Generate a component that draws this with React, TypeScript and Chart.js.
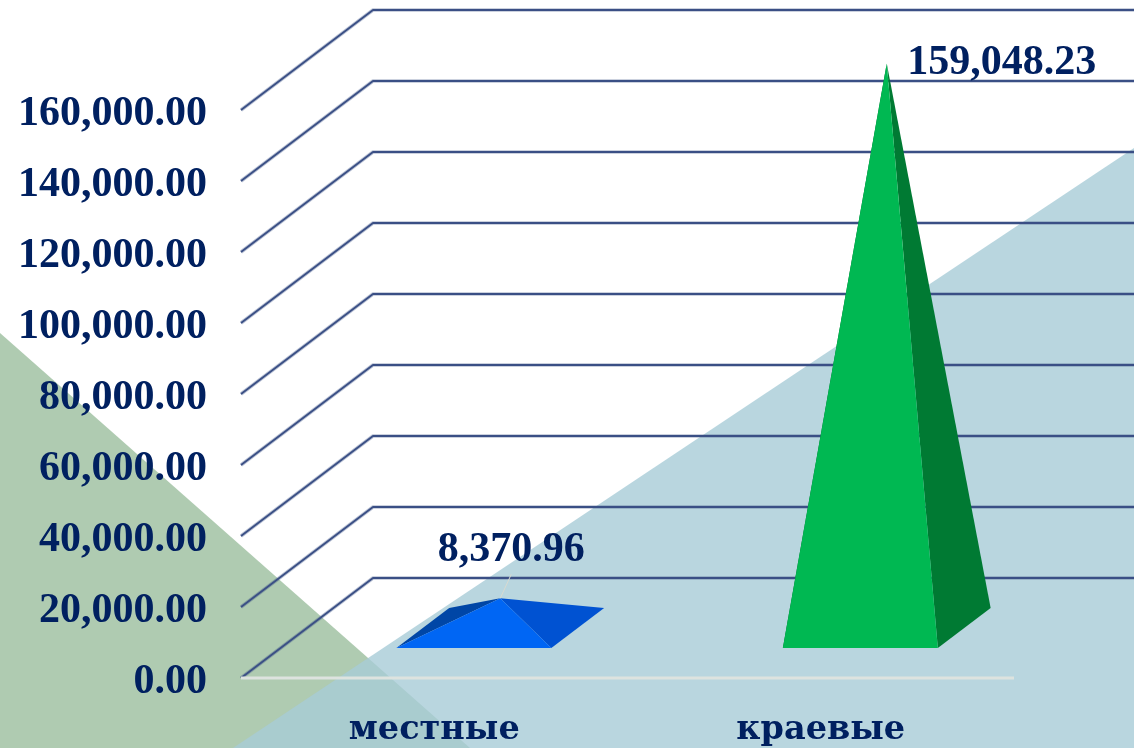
import React, { useEffect, useRef } from "react";
import { Chart, BarController, BarElement, CategoryScale, LinearScale } from "chart.js";

const categories = ["местные", "краевые"];
const values = [8370.96, 159048.23];
const yTicksMax = 160000;
const yTicksStep = 20000;

const INK = "#002060";
const FONT = '"Liberation Serif", serif';
const CATEGORY_FONT = '"DejaVu Serif", serif';
const frontColors = ["#0066F4", "#00B852"];
const sideColors = ["#0052D2", "#007A33"];
const leftColors = ["#0046A6", "#00642A"];
const labelOffsets = [{ x: 11, y: -48 }, { x: 115, y: 0 }];
const DEPTH_X = 132;
const DEPTH_Y = 100;
const FRONT_DEPTH = 0.3;
const BACK_DEPTH = 0.7;

const fmt = (v: number) =>
  v.toLocaleString("en-US", { minimumFractionDigits: 2, maximumFractionDigits: 2 });

function poly(ctx: CanvasRenderingContext2D, pts: number[][], fill: string) {
  ctx.beginPath();
  pts.forEach((p, i) => (i ? ctx.lineTo(p[0], p[1]) : ctx.moveTo(p[0], p[1])));
  ctx.closePath();
  ctx.fillStyle = fill;
  ctx.fill();
}

class PyramidController extends BarController {
  draw() {
    const ctx = this.chart.ctx;
    const meta = this.getMeta();
    meta.data.forEach((bar: any, i: number) => {
      const half = bar.width / 2;
      const base = bar.base;
      const cx = bar.x;
      const fx = cx + DEPTH_X * FRONT_DEPTH;
      const fy = base - DEPTH_Y * FRONT_DEPTH;
      const bx = cx + DEPTH_X * BACK_DEPTH;
      const by = base - DEPTH_Y * BACK_DEPTH;
      const apex = [cx + DEPTH_X / 2, bar.y - DEPTH_Y / 2];
      poly(ctx, [[fx - half, fy], [bx - half, by], apex], leftColors[i]);
      poly(ctx, [[fx + half, fy], [bx + half, by], apex], sideColors[i]);
      poly(ctx, [[fx - half, fy], [fx + half, fy], apex], frontColors[i]);

      const off = labelOffsets[i];
      const lx = apex[0] + off.x;
      const ly = apex[1] + off.y;
      if (Math.abs(off.y) > 10) {
        ctx.beginPath();
        ctx.moveTo(apex[0], apex[1]);
        ctx.lineTo(lx, ly + 24);
        ctx.strokeStyle = "#D9DAD0";
        ctx.lineWidth = 1;
        ctx.stroke();
      }
      ctx.fillStyle = INK;
      ctx.font = `bold 42px ${FONT}`;
      ctx.textAlign = "center";
      ctx.textBaseline = "middle";
      ctx.fillText(fmt(values[i]), lx, ly);
    });
  }
}
(PyramidController as any).id = "pyramid";
(PyramidController as any).defaults = BarController.defaults;
(PyramidController as any).overrides = BarController.overrides;

const backdrop = {
  id: "backdrop",
  beforeDraw(chart: any) {
    const { ctx, width, height } = chart;
    ctx.save();
    ctx.fillStyle = "#FFFFFF";
    ctx.fillRect(0, 0, width, height);
    poly(ctx, [[0, 333], [470, 748], [0, 748]], "#AFCBB1");
    poly(ctx, [[1134, 148], [1134, 748], [233, 748]], "rgba(168,204,215,0.8)");
    ctx.restore();
  },
};

const walls = {
  id: "walls",
  beforeDatasetsDraw(chart: any) {
    const { ctx, scales } = chart;
    const y = scales.y;
    const left = y.right;
    const bottom = y.getPixelForValue(0);
    ctx.save();
    ctx.lineCap = "butt";
    ctx.lineJoin = "round";
    y.ticks.forEach((t: any) => {
      const py = y.getPixelForValue(t.value);
      const path = () => {
        ctx.beginPath();
        ctx.moveTo(left, py);
        ctx.lineTo(left + DEPTH_X, py - DEPTH_Y);
        ctx.lineTo(chart.width + 4, py - DEPTH_Y);
      };
      path();
      ctx.strokeStyle = "rgba(58,79,133,0.35)";
      ctx.lineWidth = 3.5;
      ctx.stroke();
      path();
      ctx.strokeStyle = "#3A4F85";
      ctx.lineWidth = 1.8;
      ctx.stroke();
    });
    ctx.beginPath();
    ctx.moveTo(left, bottom);
    ctx.lineTo(scales.x.right, bottom);
    ctx.strokeStyle = "#DDE3DF";
    ctx.lineWidth = 3;
    ctx.stroke();
    ctx.restore();
  },
};

Chart.register(PyramidController as any, BarElement, CategoryScale, LinearScale);

export default function App() {
  const ref = useRef<HTMLCanvasElement>(null);
  useEffect(() => {
    document.body.style.margin = "0";
    const chart = new Chart(ref.current!, {
      type: "pyramid" as any,
      data: {
        labels: categories,
        datasets: [
          { data: values, categoryPercentage: 0.401, barPercentage: 1, clip: false } as any,
        ],
      },
      plugins: [backdrop, walls],
      options: {
        animation: false,
        responsive: false,
        layout: { padding: { top: 110, right: 120, left: 0, bottom: 0 } },
        plugins: { legend: { display: false }, tooltip: { enabled: false } },
        scales: {
          x: {
            type: "category",
            grid: { display: false },
            border: { display: false },
            afterFit: (s: any) => { s.height = 70; },
            ticks: {
              color: INK,
              padding: 24,
              maxRotation: 0,
              font: { family: CATEGORY_FONT, weight: "bold", size: 33.5 },
            },
          },
          y: {
            type: "linear",
            min: 0,
            max: yTicksMax,
            grid: { display: false },
            border: { display: false },
            afterFit: (s: any) => { s.width = 241; },
            ticks: {
              stepSize: yTicksStep,
              color: INK,
              padding: 26,
              labelOffset: 4,
              callback: (v: any) => fmt(Number(v)),
              font: { family: FONT, weight: "bold", size: 42 },
            },
          },
        },
      } as any,
    });
    return () => chart.destroy();
  }, []);
  return (
    <canvas ref={ref} width={1134} height={748} style={{ display: "block", filter: "blur(0.5px)" }} />
  );
}
